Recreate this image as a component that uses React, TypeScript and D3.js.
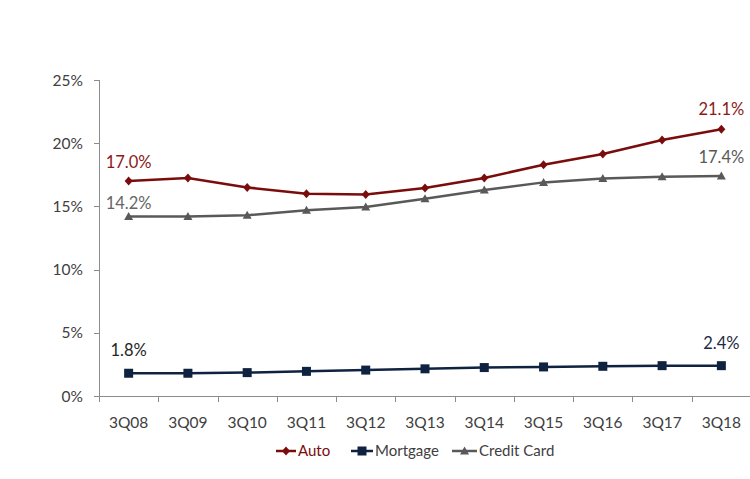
import * as d3 from "d3";

const quarters = ["3Q08", "3Q09", "3Q10", "3Q11", "3Q12", "3Q13", "3Q14", "3Q15", "3Q16", "3Q17", "3Q18"];
const auto = [17.0, 17.25, 16.5, 16.0, 15.95, 16.45, 17.25, 18.3, 19.15, 20.25, 21.1];
const mortgage = [1.8, 1.8, 1.85, 1.95, 2.05, 2.15, 2.25, 2.3, 2.35, 2.4, 2.4];
const creditCard = [14.2, 14.2, 14.3, 14.7, 14.95, 15.6, 16.3, 16.9, 17.2, 17.35, 17.4];
const yTicks = [0, 5, 10, 15, 20, 25];

const W = 750;
const H = 479;
const font = "Lato, 'Open Sans', sans-serif";

const series = [
  { name: "Auto", values: auto, color: "#7a0c0c", marker: "diamond", firstColor: "#8b1a1a", lastColor: "#8b1a1a", off: [-13, -14] },
  { name: "Mortgage", values: mortgage, color: "#0f2340", marker: "square", firstColor: "#262626", lastColor: "#1c2a44", off: [-17, -17] },
  { name: "Credit Card", values: creditCard, color: "#595959", marker: "triangle", firstColor: "#666666", lastColor: "#595959", off: [-8, -13] },
];

function Marker({ type, x, y, color }: { type: string; x: number; y: number; color: string }) {
  if (type === "diamond") {
    return <path d={`M${x},${y - 4.5}L${x + 4},${y}L${x},${y + 4.5}L${x - 4},${y}Z`} fill={color} />;
  }
  if (type === "square") {
    return <rect x={x - 4.5} y={y - 4.5} width={9} height={9} fill={color} />;
  }
  return <path d={`M${x},${y - 4.5}L${x + 4.5},${y + 3.5}L${x - 4.5},${y + 3.5}Z`} fill={color} />;
}

export default function App() {
  const x = d3.scaleBand<string>().domain(quarters).range([99, 751]);
  const y = d3.scaleLinear().domain([0, 25]).range([396, 80]);
  const cx = (q: string) => (x(q) ?? 0) + x.bandwidth() / 2;

  const line = (vals: number[]) =>
    d3
      .line<number>()
      .x((_, i) => cx(quarters[i]))
      .y((v) => y(v))(vals) ?? "";

  const last = quarters[quarters.length - 1];
  const first = quarters[0];

  const legendItems = [
    { s: series[0], x: 276, w: 20 },
    { s: series[1], x: 351, w: 22 },
    { s: series[2], x: 452, w: 25 },
  ];

  return (
    <svg width={W} height={H} style={{ position: "absolute", left: 0, top: 0 }} fontFamily={font}>
      <rect width={W} height={H} fill="#fff" />
      {/* y axis */}
      <line x1={99.5} x2={99.5} y1={80} y2={396} stroke="#8c8c8c" />
      {yTicks.map((t) => (
        <g key={t}>
          <line x1={94} x2={99.5} y1={Math.round(y(t)) + 0.5} y2={Math.round(y(t)) + 0.5} stroke="#8c8c8c" />
          <text x={83} y={y(t) + 5.5} textAnchor="end" fontSize={15.5} fill="#404040">
            {t}%
          </text>
        </g>
      ))}
      {/* x axis */}
      <line x1={99} x2={751} y1={396.5} y2={396.5} stroke="#8c8c8c" />
      {quarters.map((q) => (
        <g key={q}>
          <line x1={Math.round(x(q) ?? 0) + 0.5} x2={Math.round(x(q) ?? 0) + 0.5} y1={396} y2={402} stroke="#8c8c8c" />
          <text x={cx(q)} y={428} textAnchor="middle" fontSize={15.5} fill="#404040">
            {q}
          </text>
        </g>
      ))}
      {/* series */}
      {series.map((s) => (
        <g key={s.name}>
          <path d={line(s.values)} fill="none" stroke={s.color} strokeWidth={2.5} />
          {s.values.map((v, i) => (
            <Marker key={i} type={s.marker} x={cx(quarters[i])} y={y(v)} color={s.color} />
          ))}
          <text x={cx(first)} y={y(s.values[0]) + s.off[0]} textAnchor="middle" fontSize={16.5} fill={s.firstColor}>
            {s.values[0].toFixed(1)}%
          </text>
          <text
            x={cx(last)}
            y={y(s.values[s.values.length - 1]) + s.off[1]}
            textAnchor="middle"
            fontSize={16.5}
            fill={s.lastColor}
          >
            {s.values[s.values.length - 1].toFixed(1)}%
          </text>
        </g>
      ))}
      {/* legend */}
      {legendItems.map(({ s, x: lx, w }) => (
        <g key={s.name}>
          <line x1={lx} x2={lx + w} y1={451} y2={451} stroke={s.color} strokeWidth={2.5} />
          <Marker type={s.marker} x={lx + w / 2} y={451} color={s.color} />
          <text x={lx + w + 2} y={456} fontSize={15} fill={s.name === "Auto" ? "#7a0c0c" : "#404040"}>
            {s.name}
          </text>
        </g>
      ))}
    </svg>
  );
}
